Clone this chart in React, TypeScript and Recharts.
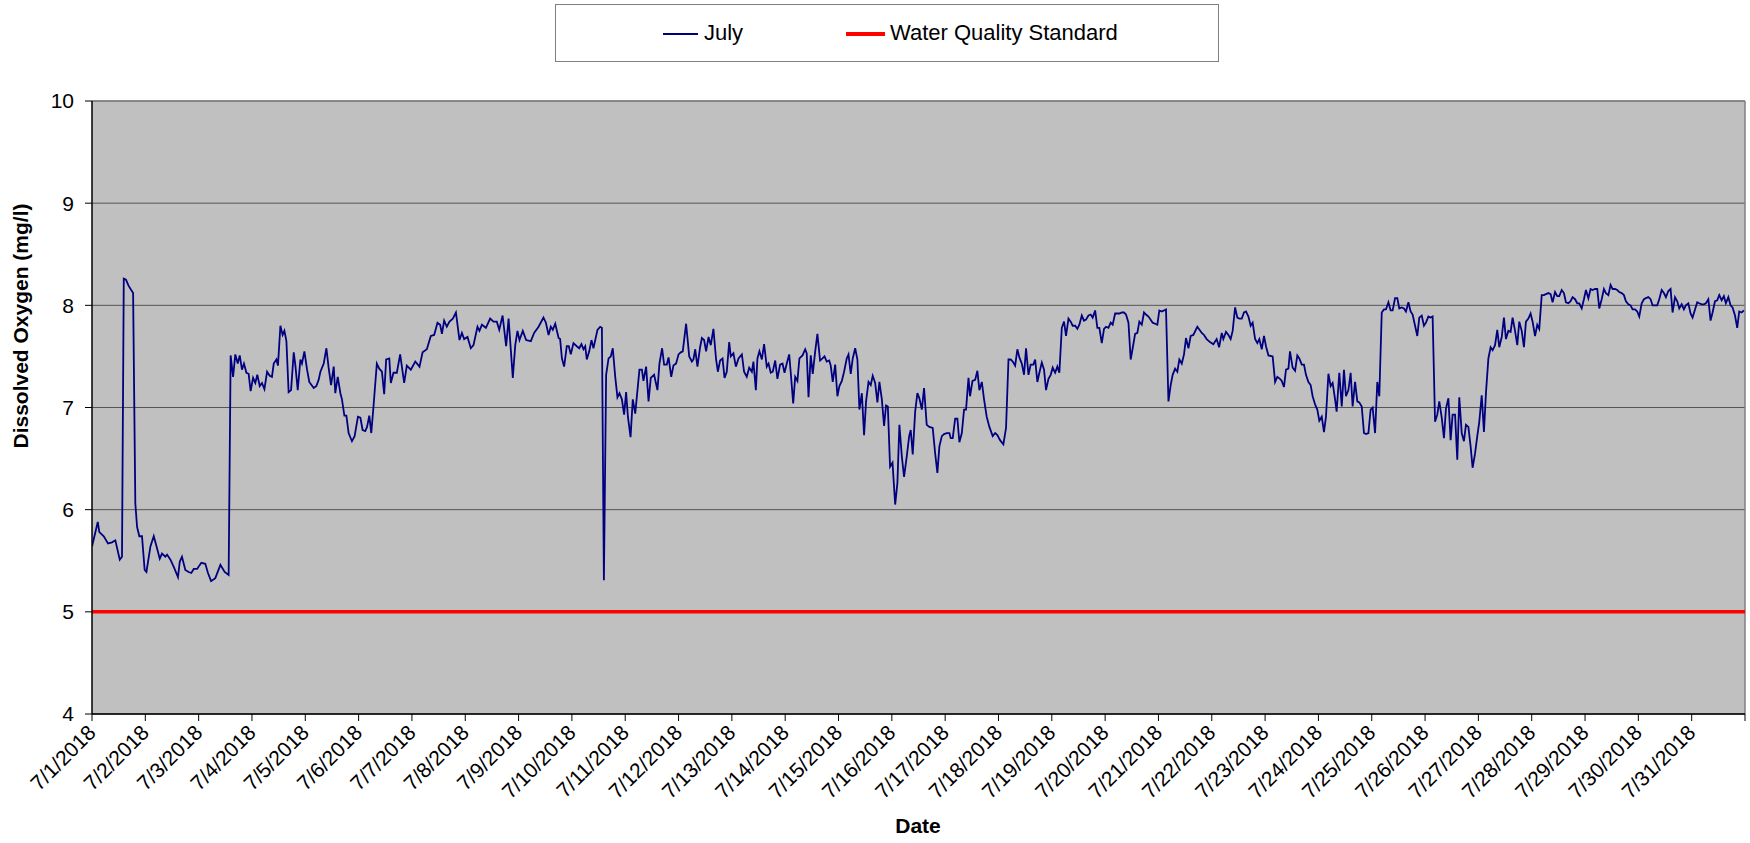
import { LineChart, Line, XAxis, YAxis, CartesianGrid, ReferenceLine, Label } from 'recharts'

// hours since 7/1/2018 00:00, dissolved oxygen (mg/l)
const jul01to06: [number, number][] = [
  [0, 5.64], [2.6, 5.88], [3.3, 5.78], [5.3, 5.74], [7.2, 5.67], [9, 5.68], [10.5, 5.7], [12.5, 5.51], [13.5, 5.54],
  [14.3, 8.26], [15.3, 8.25], [16.5, 8.19], [18.5, 8.12], [19.5, 6.06], [20.3, 5.83], [21.3, 5.74], [22.5, 5.74],
  [23.7, 5.41], [24.5, 5.39], [26.3, 5.64], [27.8, 5.74], [29.3, 5.62], [30.5, 5.52], [31.5, 5.57], [33, 5.54],
  [33.8, 5.56], [35.3, 5.51], [36.8, 5.44], [38.7, 5.34], [39.5, 5.49], [40.5, 5.54], [42, 5.41], [43.5, 5.39],
  [44.7, 5.38], [45.8, 5.42], [47.3, 5.42], [49.2, 5.48], [51, 5.47], [52.2, 5.38], [53.6, 5.3], [55.5, 5.33],
  [57.8, 5.46], [59.7, 5.39], [61.5, 5.36], [62.4, 7.51], [63.5, 7.3], [64.5, 7.52], [65.6, 7.43], [66.5, 7.51],
  [67.5, 7.37], [68.4, 7.43], [69.5, 7.34], [70.5, 7.33], [71.4, 7.16], [72.5, 7.29], [73.5, 7.24], [74.4, 7.32],
  [75.5, 7.21], [76.5, 7.24], [77.6, 7.18], [78.8, 7.35], [80, 7.31], [81, 7.3], [81.8, 7.43], [83, 7.47],
  [83.7, 7.41], [84.8, 7.8], [85.8, 7.71], [86.6, 7.75], [87.5, 7.65], [88.5, 7.15], [89.6, 7.17], [90.8, 7.54],
  [91.5, 7.42], [92.6, 7.17], [93.8, 7.47], [94.5, 7.43], [95.6, 7.55], [96.8, 7.37], [97.8, 7.25], [99.8, 7.19],
  [101, 7.21], [102, 7.27], [102.8, 7.35], [104.3, 7.43], [105.5, 7.58], [106.5, 7.39], [107.6, 7.22], [108.8, 7.4],
  [109.5, 7.14], [110.6, 7.3], [111.8, 7.14], [112.5, 7.08], [113.6, 6.92], [114.5, 6.92], [115.5, 6.75], [117, 6.67],
  [118.2, 6.72], [119.7, 6.91], [120.8, 6.9], [121.8, 6.78], [123, 6.77], [123.8, 6.81], [124.8, 6.92],
]

const jul06to11: [number, number][] = [
  [125.7, 6.75], [126.7, 7.01], [128.2, 7.43], [129.3, 7.38], [130.5, 7.35], [131.5, 7.13], [132.4, 7.47],
  [133.8, 7.48], [134.5, 7.24], [135.7, 7.34], [137.2, 7.34], [138.7, 7.52], [140.5, 7.24], [141.7, 7.41],
  [143.5, 7.37], [145.5, 7.45], [147.4, 7.4], [148.8, 7.54], [150.7, 7.57], [152.5, 7.7], [154, 7.71], [155.5, 7.83],
  [156.7, 7.81], [157.5, 7.72], [158.5, 7.85], [159.7, 7.79], [160.9, 7.84], [162.4, 7.87], [163.8, 7.93],
  [165.4, 7.66], [166.5, 7.73], [167.5, 7.67], [169, 7.69], [170.5, 7.58], [171.7, 7.61], [173.5, 7.79],
  [174.4, 7.75], [175.5, 7.81], [177.3, 7.78], [179.2, 7.87], [180.7, 7.84], [182.2, 7.84], [183.3, 7.76],
  [184.8, 7.9], [186.4, 7.6], [187.5, 7.87], [189.4, 7.29], [190.5, 7.61], [191.5, 7.75], [192.4, 7.66],
  [193.9, 7.75], [195.4, 7.66], [197.5, 7.65], [199, 7.73], [201, 7.79], [203.2, 7.88], [204.3, 7.83],
  [205.5, 7.71], [206.5, 7.79], [207.4, 7.76], [208.5, 7.82], [210, 7.68], [210.7, 7.67], [211.5, 7.48],
  [212.5, 7.4], [213.7, 7.6], [214.6, 7.6], [215.5, 7.52], [216.7, 7.63], [218.2, 7.6], [219.3, 7.58], [220.3, 7.62],
  [221.2, 7.57], [222, 7.6], [222.7, 7.47], [223.8, 7.55], [224.8, 7.66], [225.7, 7.58], [227.5, 7.76],
  [228.7, 7.79], [229.5, 7.78], [230.4, 5.31], [231.4, 7.32], [232.5, 7.48], [233.5, 7.5], [234.4, 7.58],
  [235.5, 7.3], [236.5, 7.1], [237.4, 7.14], [238.5, 7.08], [239.5, 6.93], [240.4, 7.15], [241.2, 6.91],
  [242.4, 6.71], [243.4, 7.08], [244.5, 6.94], [246.4, 7.37], [247.5, 7.37],
]

const jul11to16: [number, number][] = [
  [248.2, 7.26], [249.4, 7.4], [250.5, 7.06], [251.5, 7.29], [253, 7.32], [254.5, 7.17], [255.4, 7.43],
  [256.6, 7.58], [257.5, 7.42], [258.7, 7.42], [259.5, 7.49], [260.7, 7.3], [261.7, 7.41], [262.9, 7.43],
  [264, 7.52], [265, 7.54], [265.9, 7.55], [267.4, 7.82], [268.8, 7.5], [270, 7.45], [270.7, 7.47], [271.5, 7.57],
  [272.5, 7.4], [273.7, 7.59], [274.5, 7.68], [275.5, 7.66], [276.4, 7.55], [277.5, 7.69], [278.5, 7.61],
  [279.7, 7.77], [280.9, 7.47], [281.7, 7.35], [282.7, 7.46], [283.8, 7.48], [284.7, 7.29], [285.7, 7.35],
  [286.8, 7.64], [287.5, 7.5], [288.7, 7.53], [289.8, 7.4], [291, 7.48], [292.5, 7.52], [293.5, 7.35], [294.7, 7.3],
  [295.8, 7.39], [297, 7.35], [297.7, 7.45], [298.8, 7.17], [299.5, 7.48], [300.4, 7.55], [301.5, 7.47],
  [302.5, 7.62], [303.7, 7.4], [304.5, 7.43], [305.5, 7.34], [306.4, 7.35], [307.5, 7.46], [308.5, 7.28],
  [309.7, 7.42], [310.8, 7.43], [311.7, 7.34], [312.7, 7.43], [313.8, 7.52], [314.5, 7.34], [315.6, 7.04],
  [316.5, 7.3], [317.5, 7.26], [318.4, 7.48], [319.8, 7.51], [321, 7.57], [321.7, 7.53], [322.5, 7.1], [323.5, 7.51],
  [324.4, 7.33], [325.5, 7.55], [326.5, 7.72], [327.7, 7.46], [328.8, 7.48], [329.7, 7.5], [330.7, 7.45],
  [331.8, 7.46], [332.5, 7.41], [333.4, 7.25], [334.5, 7.42], [335.5, 7.11], [336.4, 7.21], [337.5, 7.26],
  [338.5, 7.35], [339.7, 7.48], [340.5, 7.52], [341.5, 7.33], [342.4, 7.48], [343.5, 7.58], [344.5, 7.47],
  [345.4, 6.98], [346.5, 7.14], [347.5, 6.73], [348.4, 7.06], [349.5, 7.25], [350.5, 7.22], [351.4, 7.31],
  [352.5, 7.24], [353.5, 7.05], [354.4, 7.25], [355.5, 7.08], [356.5, 6.82], [357.4, 7.02], [358.2, 7.01],
  [359.2, 6.42], [360.3, 6.46], [361.5, 6.05], [362.5, 6.26], [363.4, 6.83], [364.5, 6.52], [365.5, 6.32],
  [366.7, 6.52], [367.8, 6.72], [368.5, 6.78], [369.4, 6.54], [370.5, 6.96], [371.5, 7.14], [372.4, 7.09],
  [373.5, 6.98], [374.5, 7.19],
]

const jul16to21: [number, number][] = [
  [375.7, 6.83], [376.9, 6.81], [378.4, 6.8], [379.5, 6.55], [380.5, 6.36], [381.4, 6.62], [382.5, 6.72],
  [383.5, 6.74], [384.7, 6.75], [385.9, 6.75], [386.5, 6.7], [387.4, 6.7], [388.5, 6.89], [389.5, 6.89],
  [390.4, 6.66], [391.5, 6.75], [392.5, 6.98], [393.4, 6.98], [394.5, 7.29], [395.2, 7.11], [396.3, 7.26],
  [397.5, 7.27], [398.5, 7.36], [399.4, 7.17], [400.5, 7.25], [401.5, 7.08], [402.7, 6.91], [403.9, 6.81],
  [405.4, 6.72], [406.5, 6.75], [407.5, 6.73], [408.7, 6.68], [410.2, 6.64], [411.4, 6.8], [412.5, 7.47],
  [413.5, 7.47], [414.4, 7.45], [415.5, 7.41], [416.5, 7.57], [417.4, 7.49], [418.5, 7.43], [419.5, 7.32],
  [420.4, 7.58], [421.5, 7.32], [422.5, 7.42], [423.7, 7.42], [424.5, 7.47], [425.5, 7.25], [426.4, 7.34],
  [427.5, 7.44], [428.5, 7.37], [429.4, 7.17], [430.5, 7.28], [431.5, 7.32], [432.4, 7.39], [433.5, 7.34],
  [434.5, 7.4], [435.4, 7.34], [436.5, 7.78], [437.5, 7.84], [438.4, 7.7], [439.5, 7.87], [440.5, 7.84],
  [441.4, 7.8], [442.5, 7.8], [443.5, 7.77], [444.4, 7.81], [445.5, 7.9], [446.5, 7.85], [447.4, 7.86],
  [448.5, 7.9], [449.5, 7.91], [450.4, 7.88], [451.5, 7.95], [452.5, 7.78], [453.4, 7.78], [454.5, 7.63],
  [455.5, 7.77], [456.4, 7.79], [457.5, 7.78], [458.5, 7.83], [459.4, 7.81], [460.5, 7.92], [461.5, 7.92],
  [462.4, 7.92], [463.5, 7.93], [464.5, 7.93], [465.4, 7.91], [466.5, 7.83], [467.5, 7.47], [468.4, 7.58],
  [469.5, 7.72], [470.5, 7.73], [471.4, 7.84], [472.5, 7.81], [473.5, 7.93], [474.4, 7.91], [475.5, 7.89],
  [476.5, 7.86], [477.4, 7.83], [478.5, 7.82], [479.5, 7.81], [480.4, 7.95], [481.5, 7.94], [482.5, 7.95],
  [483.4, 7.96], [484.5, 7.06], [485.5, 7.22], [486.4, 7.32], [487.5, 7.38], [488.5, 7.35], [489.4, 7.47],
  [490.5, 7.43], [491.5, 7.52], [492.4, 7.68], [493.5, 7.58], [494.5, 7.7], [495.7, 7.71], [497.5, 7.79],
  [499.5, 7.73],
]

const jul21to26: [number, number][] = [
  [500.5, 7.71], [501.7, 7.67], [503.2, 7.64], [504.7, 7.62], [506.2, 7.67], [507.3, 7.59], [508.5, 7.73],
  [509.2, 7.67], [510.4, 7.74], [511.5, 7.71], [512.5, 7.67], [513.4, 7.75], [514.5, 7.98], [515.5, 7.88],
  [516.4, 7.87], [517.5, 7.87], [518.5, 7.93], [519.4, 7.94], [520.5, 7.89], [521.5, 7.8], [522.4, 7.83],
  [523.5, 7.67], [524.5, 7.63], [525.4, 7.67], [526.5, 7.57], [527.5, 7.7], [528.4, 7.6], [529.5, 7.51],
  [531.4, 7.5], [532.5, 7.25], [533.5, 7.3], [534.7, 7.28], [535.5, 7.26], [536.5, 7.2], [537.4, 7.37],
  [538.5, 7.38], [539.2, 7.55], [540.4, 7.39], [541.5, 7.36], [542.5, 7.51], [543.4, 7.48], [544.5, 7.42],
  [545.5, 7.42], [546.4, 7.32], [547.5, 7.25], [548.5, 7.22], [549.4, 7.11], [550.5, 7.03], [551.5, 6.98],
  [552.4, 6.87], [553.5, 6.91], [554.5, 6.76], [555.4, 6.91], [556.5, 7.33], [557.5, 7.21], [558.4, 7.24],
  [559.5, 7.08], [560.2, 6.96], [561.4, 7.34], [562.5, 7.01], [563.5, 7.37], [564.4, 7.11], [565.5, 7.17],
  [566.5, 7.34], [567.4, 7.01], [568.5, 7.25], [569.5, 7.06], [570.4, 7.05], [571.5, 7.01], [572.5, 6.75],
  [573.4, 6.74], [574.5, 6.75], [575.5, 6.98], [576.4, 7.0], [577.5, 6.75], [578.5, 7.25], [579.4, 7.11],
  [580.5, 7.93], [581.5, 7.96], [582.4, 7.96], [583.5, 8.03], [584.5, 7.95], [585.4, 7.95], [586.5, 8.07],
  [587.5, 8.07], [588.4, 7.97], [589.5, 7.98], [590.5, 7.97], [591.4, 7.94], [592.5, 8.03], [593.5, 7.94],
  [594.4, 7.91], [595.5, 7.8], [596.5, 7.7], [597.4, 7.88], [598.5, 7.9], [599.5, 7.8], [600.4, 7.83],
  [601.5, 7.89], [602.5, 7.88], [603.4, 7.89], [604.5, 6.86], [605.5, 6.93], [606.4, 7.06], [607.5, 6.9],
  [608.5, 6.7], [609.4, 6.99], [610.5, 7.09], [611.5, 6.68], [612.4, 6.93], [613.5, 6.93], [614.5, 6.49],
  [615.4, 7.1], [616.5, 6.75], [617.5, 6.67], [618.4, 6.83], [619.5, 6.81], [620.5, 6.62], [621.4, 6.41],
  [622.5, 6.55], [623.5, 6.72], [624.4, 6.86], [625.5, 7.12], [626.5, 6.76],
]

const jul27to31: [number, number][] = [
  [627.4, 7.14], [628.5, 7.48], [629.5, 7.59], [630.4, 7.56], [631.5, 7.61], [632.5, 7.76], [633.4, 7.59],
  [634.5, 7.69], [635.5, 7.88], [636.4, 7.67], [637.5, 7.75], [638.5, 7.74], [639.4, 7.88], [640.5, 7.75],
  [641.5, 7.61], [642.4, 7.84], [643.5, 7.75], [644.5, 7.59], [645.4, 7.84], [646.5, 7.87], [647.5, 7.92],
  [648.4, 7.84], [649.5, 7.7], [650.5, 7.81], [651.4, 7.77], [652.5, 8.1], [653.5, 8.1], [654.4, 8.11],
  [655.5, 8.12], [656.5, 8.11], [657.4, 8.03], [658.5, 8.13], [659.5, 8.09], [660.4, 8.09], [661.5, 8.15],
  [662.5, 8.12], [663.4, 8.03], [664.5, 8.02], [665.5, 8.04], [666.4, 8.08], [667.5, 8.06], [668.5, 8.02],
  [669.4, 8.02], [670.5, 7.97], [671.5, 8.06], [672.4, 8.15], [673.5, 8.07], [674.5, 8.16], [675.4, 8.15],
  [676.5, 8.16], [677.5, 8.16], [678.4, 7.97], [679.5, 8.06], [680.5, 8.16], [681.4, 8.12], [682.5, 8.1],
  [683.5, 8.2], [684.4, 8.16], [685.5, 8.16], [686.5, 8.15], [687.4, 8.13], [688.5, 8.12], [689.5, 8.1],
  [690.4, 8.04], [691.5, 8.01], [692.5, 8.0], [693.4, 7.96], [694.5, 7.96], [695.5, 7.94], [696.4, 7.89],
  [697.5, 8.02], [698.5, 8.06], [699.4, 8.07], [700.5, 8.08], [701.5, 8.06], [702.4, 8.0], [703.5, 8.0],
  [704.5, 8.0], [705.4, 8.06], [706.5, 8.15], [707.5, 8.12], [708.4, 8.08], [709.5, 8.14], [710.5, 8.16],
  [711.4, 7.93], [712.5, 8.08], [713.5, 8.04], [714.4, 7.97], [715.5, 8.01], [716.5, 7.96], [717.4, 8.0],
  [718.5, 8.02], [719.5, 7.92], [720.4, 7.88], [721.5, 7.96], [722.5, 8.03], [723.4, 8.02], [724.5, 8.01],
  [725.5, 8.01], [726.4, 8.02], [727.5, 8.06], [728.5, 7.85], [729.4, 7.93], [730.5, 8.04], [731.5, 8.05],
  [732.4, 8.1], [733.5, 8.05], [734.5, 8.09], [735.4, 8.02], [736.5, 8.08], [737.5, 8.0], [738.4, 7.98],
  [739.5, 7.9], [740.5, 7.78], [741.4, 7.94], [742.5, 7.93], [743.5, 7.95],
]

const standardValue = 5
const monthHours = [0, 744]
const yTicks = [4, 5, 6, 7, 8, 9, 10]
const dateLabels = [
  '7/1/2018', '7/2/2018', '7/3/2018', '7/4/2018', '7/5/2018', '7/6/2018', '7/7/2018', '7/8/2018',
  '7/9/2018', '7/10/2018', '7/11/2018', '7/12/2018', '7/13/2018', '7/14/2018', '7/15/2018', '7/16/2018',
  '7/17/2018', '7/18/2018', '7/19/2018', '7/20/2018', '7/21/2018', '7/22/2018', '7/23/2018', '7/24/2018',
  '7/25/2018', '7/26/2018', '7/27/2018', '7/28/2018', '7/29/2018', '7/30/2018', '7/31/2018', '',
]

const julyData = [...jul01to06, ...jul06to11, ...jul11to16, ...jul16to21, ...jul21to26, ...jul27to31].map(([t, v]) => ({ t, v }))
const standardData = monthHours.map((t) => ({ t, s: standardValue }))
const xTicks = dateLabels.map((_, i) => i * 24)

const FONT = '"Liberation Sans", Arial, sans-serif'

const DateTick = (props: any) => {
  const { x, y, payload } = props
  const label = dateLabels[Math.round(payload.value / 24)]
  const ax = x + 5
  const ay = y + 11
  return (
    <text x={ax} y={ay} transform={`rotate(-45, ${ax}, ${ay})`} textAnchor="end" fontSize={21} fontFamily={FONT} fill="#000">
      {label}
    </text>
  )
}

const YTitle = () => (
  <text x={28} y={326} transform="rotate(-90, 28, 326)" textAnchor="middle" fontSize={21} fontWeight="bold" fontFamily={FONT} fill="#000">
    Dissolved Oxygen (mg/l)
  </text>
)

const XTitle = () => (
  <text x={918} y={833} textAnchor="middle" fontSize={21} fontWeight="bold" fontFamily={FONT} fill="#000">
    Date
  </text>
)

function ChartLegend() {
  return (
    <div style={{ position: 'absolute', left: 555, top: 4, width: 664, height: 58, border: '1px solid #808080', background: '#fff', boxSizing: 'border-box', fontFamily: FONT, fontSize: 22 }}>
      <div style={{ position: 'absolute', left: 107, top: 28, width: 35, borderTop: '2px solid #000080' }} />
      <div style={{ position: 'absolute', left: 148, top: 15, lineHeight: '26px' }}>July</div>
      <div style={{ position: 'absolute', left: 290, top: 27, width: 39, borderTop: '4px solid #ff0000' }} />
      <div style={{ position: 'absolute', left: 334, top: 15, lineHeight: '26px' }}>Water Quality Standard</div>
    </div>
  )
}

export default function App() {
  return (
    <div style={{ position: 'absolute', left: 0, top: 0, width: 1750, height: 843, background: '#fff' }}>
      <LineChart width={1750} height={843} data={julyData} margin={{ top: 101, right: 5, left: 2, bottom: 0 }}>
        <CartesianGrid vertical={false} stroke="#555" fill="#C0C0C0" />
        <XAxis
          dataKey="t"
          type="number"
          domain={[0, 744]}
          ticks={xTicks}
          interval={0}
          height={129}
          axisLine={{ stroke: '#000', strokeWidth: 1.5 }}
          tickLine={{ stroke: '#000' }}
          tickSize={7}
          tick={<DateTick />}
          allowDataOverflow
        >
          <Label content={<XTitle />} />
        </XAxis>
        <YAxis
          type="number"
          domain={[4, 10]}
          ticks={yTicks}
          interval={0}
          width={90}
          axisLine={{ stroke: '#000', strokeWidth: 1.5 }}
          tickLine={{ stroke: '#000' }}
          tickSize={7}
          tickMargin={11}
          tick={{ fontSize: 21, fontFamily: FONT, fill: '#000' }}
        >
          <Label content={<YTitle />} />
        </YAxis>
        <ReferenceLine x={744} stroke="#808080" strokeWidth={1.5} />
        <ReferenceLine y={10} stroke="#808080" strokeWidth={1.5} />
        <Line data={standardData} dataKey="s" type="linear" stroke="#ff0000" strokeWidth={3.5} dot={false} isAnimationActive={false} />
        <Line dataKey="v" type="linear" stroke="#000080" strokeWidth={1.8} dot={false} isAnimationActive={false} />
      </LineChart>
      <ChartLegend />
    </div>
  )
}
